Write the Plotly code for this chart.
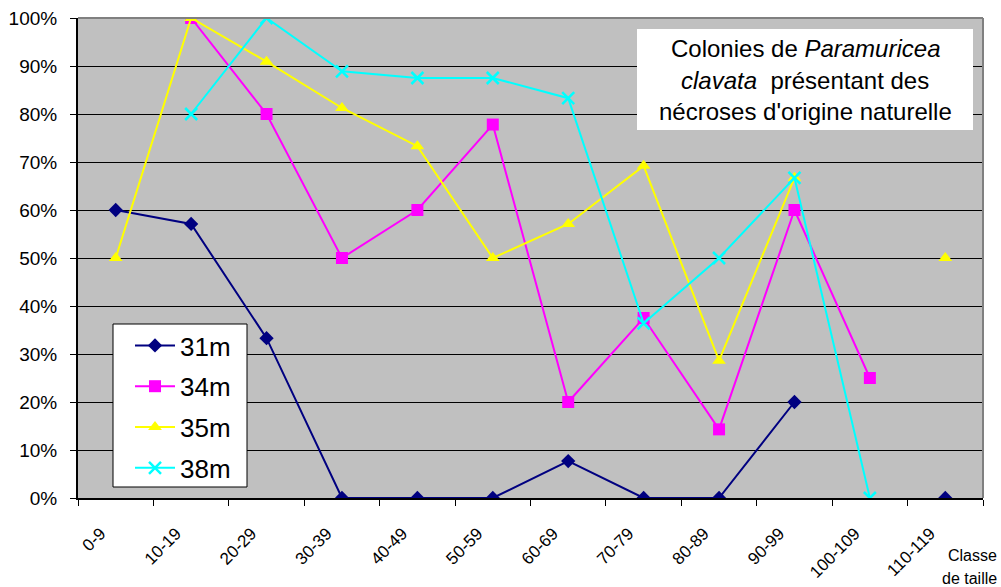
import plotly.graph_objects as go

# Size classes (cm) and share of colonies with natural necrosis, per depth
classes = ["0-9", "10-19", "20-29", "30-39", "40-49", "50-59",
           "60-69", "70-79", "80-89", "90-99", "100-109", "110-119"]

d31 = [0.600, 0.571, 0.333, 0.0, 0.0, 0.0, 0.077, 0.0, 0.0, 0.200, None, 0.0]
d34 = [None, 1.000, 0.800, 0.500, 0.600, 0.778, 0.200, 0.375, 0.143, 0.600, 0.250, None]
d35 = [0.500, 1.000, 0.909, 0.8125, 0.733, 0.500, 0.571, 0.692, 0.286, 0.667, None, 0.500]
d38 = [None, 0.800, 1.000, 0.889, 0.875, 0.875, 0.833, 0.364, 0.500, 0.667, 0.0, None]

FONT = "Arial, Liberation Sans, sans-serif"

series = [
    ("31m", d31, "#000080", dict(symbol="diamond", size=11)),
    ("34m", d34, "#FF00FF", dict(symbol="square", size=12)),
    ("35m", d35, "#FFFF00", dict(symbol="triangle-up", size=12)),
    ("38m", d38, "#00FFFF", dict(symbol="x-thin", size=12,
                                 line=dict(width=2.5, color="#00FFFF"))),
]

fig = go.Figure()
for i, (name, vals, color, mk) in enumerate(series):
    fig.add_trace(go.Scatter(
        x=classes, y=vals, name=name, mode="lines+markers",
        connectgaps=False, legendgroup=f"g{i}",
        line=dict(color=color, width=2),
        marker=dict(color=color, **mk),
    ))

PW, PH, L, T = 905, 480, 78, 18   # plot area size and offsets in px


def px_x(x):
    return (x - L) / PW


def px_y(y):
    return (T + PH - y) / PH


fig.update_layout(
    width=1001, height=587,
    margin=dict(l=L, r=1001 - L - PW, t=T, b=587 - T - PH),
    paper_bgcolor="white", plot_bgcolor="#C0C0C0",
    font=dict(family=FONT, color="black"),
    showlegend=True,
    legend=dict(
        x=px_x(130), y=px_y(322), xanchor="left", yanchor="top",
        bgcolor="rgba(0,0,0,0)", borderwidth=0,
        font=dict(size=26, family=FONT), tracegroupgap=4,
        traceorder="grouped", itemwidth=40,
    ),
    xaxis=dict(
        type="category", range=[-0.5, 11.5], automargin=False,
        showgrid=False, showline=True, linecolor="black", linewidth=2,
        ticks="outside", tickson="boundaries", ticklen=6, tickcolor="black",
        tickangle=-45, tickfont=dict(size=17, family=FONT),
        ticklabelstandoff=17, ticklabelshift=-15,
    ),
    yaxis=dict(
        range=[0, 1], tickvals=[i / 10 for i in range(11)], tickformat=".0%",
        automargin=False,
        showgrid=True, gridcolor="black", gridwidth=1,
        showline=True, linecolor="black", linewidth=2,
        ticks="outside", ticklen=6, tickcolor="black",
        tickfont=dict(size=19, family=FONT), zeroline=False,
        ticklabelstandoff=9,
    ),
)

# Frame: grey top and right edges
fig.add_shape(type="line", xref="paper", yref="paper", x0=0, x1=1, y0=1, y1=1,
              line=dict(color="#808080", width=2))
fig.add_shape(type="line", xref="paper", yref="paper", x0=1, x1=1, y0=0, y1=1,
              line=dict(color="#808080", width=2))

# Legend frame
fig.add_shape(type="rect", xref="paper", yref="paper",
              x0=px_x(113), x1=px_x(247), y0=px_y(487), y1=px_y(324),
              fillcolor="white", line=dict(color="black", width=1), layer="above")

# Caption box
fig.add_shape(type="rect", xref="paper", yref="paper",
              x0=px_x(637), x1=px_x(973), y0=px_y(130), y1=px_y(29),
              fillcolor="white", line=dict(width=0), layer="above")
caption = ["Colonies de <i>Paramuricea</i>",
           "<i>clavata</i>  présentant des",
           "nécroses d'origine naturelle"]
for txt, yy in zip(caption, [48, 80, 112]):
    fig.add_annotation(text=txt, xref="paper", yref="paper", x=px_x(805), y=px_y(yy),
                       xanchor="center", yanchor="middle", showarrow=False,
                       font=dict(size=24, family=FONT, color="black"))

# Axis title at bottom right
for txt, xx, yy in zip(["Classe", "de taille"], [972, 969], [555, 578]):
    fig.add_annotation(text=txt, xref="paper", yref="paper",
                       x=px_x(xx), y=px_y(yy),
                       xanchor="center", yanchor="middle", showarrow=False,
                       font=dict(size=16, family=FONT, color="black"))

fig.write_html("out.html")
